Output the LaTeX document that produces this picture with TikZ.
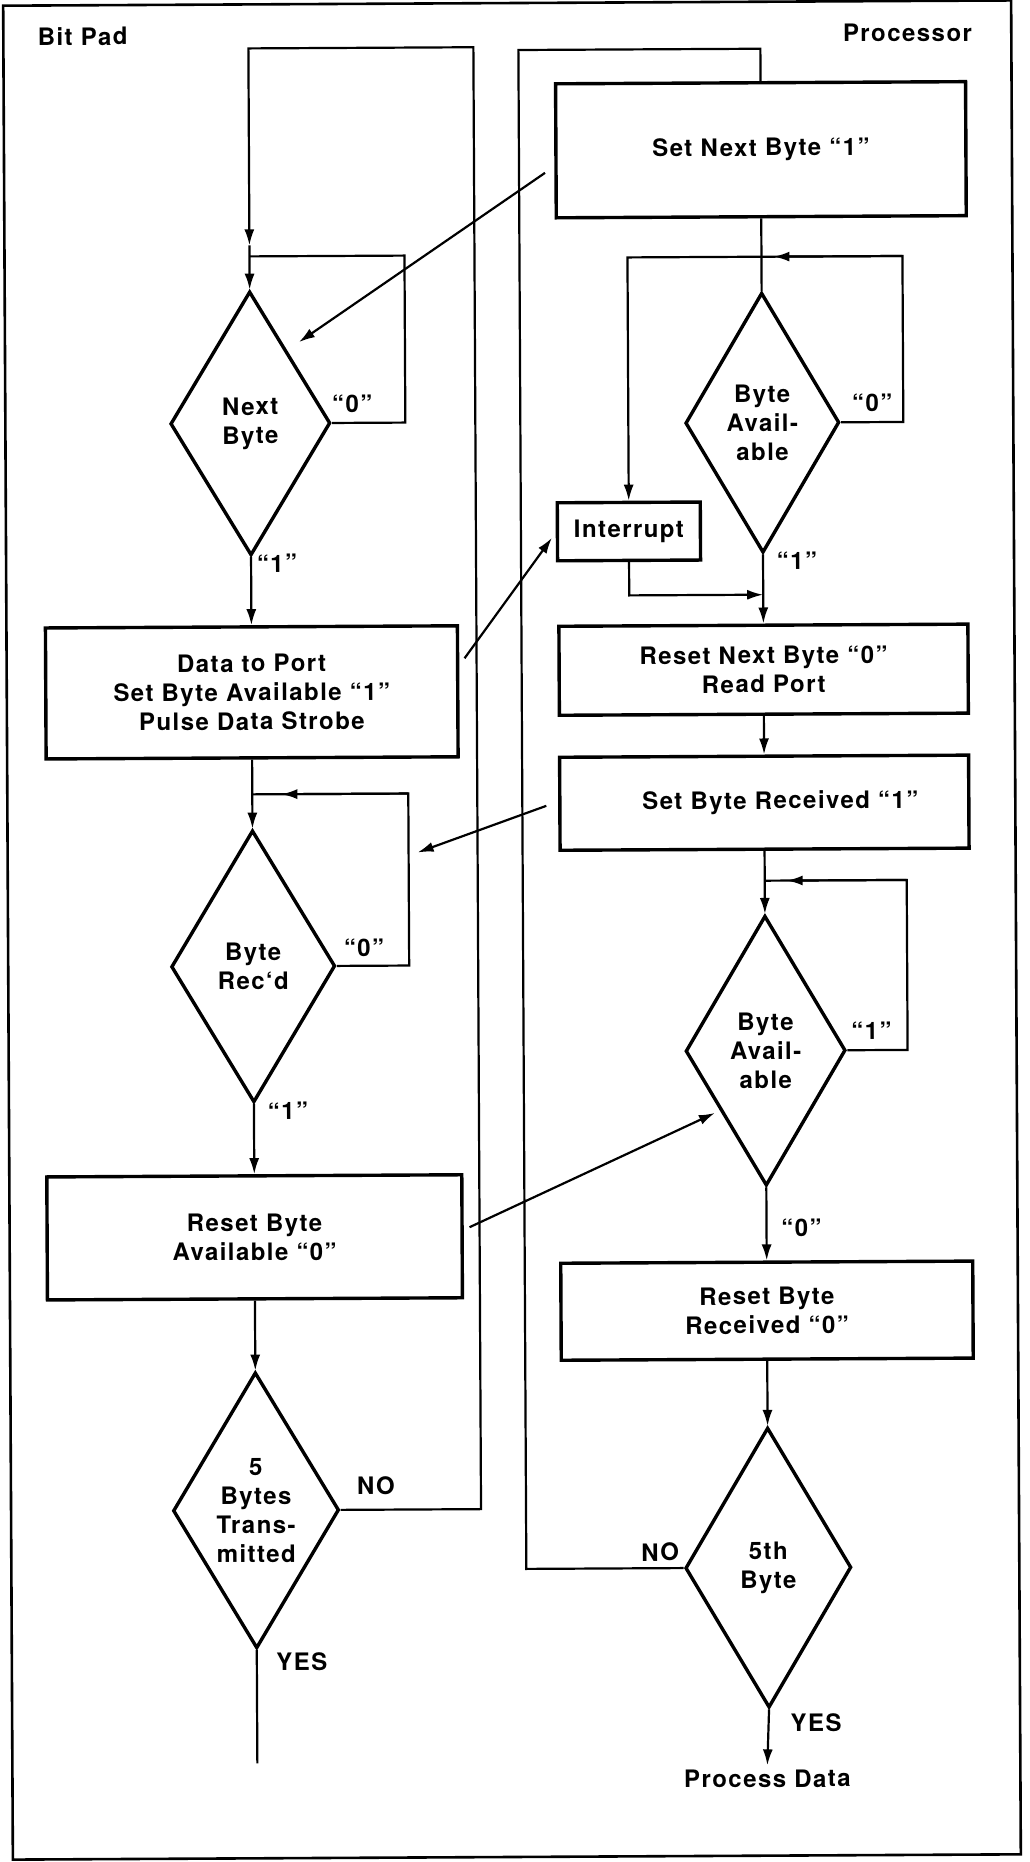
\documentclass[tikz,border=0pt]{standalone}
\usepackage{fontspec}
\setmainfont{TeX Gyre Heros}[LetterSpace=6]
\usetikzlibrary{shapes.geometric,arrows.meta}
\newcommand\dfont{\bfseries\fontsize{12}{14.5}\selectfont}
\newcommand\hfont{\bfseries\fontsize{12}{14}\selectfont}
\begin{document}
\begin{tikzpicture}[x=0.5pt,y=-0.5pt,
  conn/.style={line width=1.1pt},
  arr/.style={conn,-{Latex[length=8pt,width=5pt]}},
  box/.style={draw,line width=1.7pt,rectangle,inner sep=0pt,align=center,font=\dfont},
  dia/.style={draw,line width=1.7pt,diamond,aspect=0.6,inner sep=0pt,align=center,font=\dfont},
  lab/.style={inner sep=0pt,font=\dfont},
  head/.style={inner sep=0pt,font=\hfont}]
\useasboundingbox (0,0) rectangle (1029,1862);
\begin{scope}[rotate around={0.3:(514,931)},transform shape]
% frame
\draw[line width=1.3pt] (8,3) rectangle (1016,1857);
\node[head,anchor=west] (tbp) at (42,34) {Bit Pad};
\node[head,anchor=east] (tpr) at (977,35) {Processor};

% ---------- Bit Pad column ----------
\node[dia,minimum width=80pt,minimum height=132pt] (nb) at (253,422) {Next\\Byte};
\node[box,minimum width=206pt,minimum height=65.5pt] (dtp) at (253,691)
  {Data to Port\\Set Byte Available “1”\\Pulse Data Strobe};
\node[dia,minimum width=82pt,minimum height=136pt] (br) at (253,965) {Byte\\Rec‘d};
\node[box,minimum width=207.5pt,minimum height=61.5pt] (rba) at (253,1236)
  {Reset Byte\\Available “0”};
\node[dia,minimum width=83pt,minimum height=138pt] (bt) at (253,1509) {5\\Bytes\\Trans-\\mitted};

\node[lab] (nb0) at (355,403) {“0”};
\node[lab] (nb1) at (279,562) {“1”};
\node[lab] (br0) at (364,947) {“0”};
\node[lab] (br1) at (287,1110) {“1”};
\node[lab] (btno) at (373,1485) {NO};
\node[lab] (btyes) at (298,1661) {YES};

% ---------- Processor column ----------
\node[box,minimum width=205pt,minimum height=67pt] (snb) at (765,151) {Set Next Byte “1”};
\node[dia,minimum width=77pt,minimum height=130pt] (ba1) at (765,424) {Byte\\Avail-\\able};
\node[box,minimum width=71.5pt,minimum height=29pt] (intr) at (631,532) {Interrupt};
\node[box,minimum width=204.5pt,minimum height=44.5pt] (rnb) at (765,671)
  {Reset Next Byte “0”\\Read Port};
\node[box,minimum width=204.5pt,minimum height=46.5pt] (sbr) at (765,804)
  {\hspace*{16pt}Set Byte Received “1”};
\node[dia,minimum width=80pt,minimum height=135pt] (ba2) at (765,1052) {Byte\\Avail-\\able};
\node[box,minimum width=206pt,minimum height=48.5pt] (rbr) at (765,1312)
  {Reset Byte\\Received “0”};
\node[dia,minimum width=83pt,minimum height=140pt] (fb) at (765,1569) {5th\\Byte};
\node[inner sep=2pt,font=\dfont] (pd) at (763,1780) {Process Data};

\node[lab] (ba10) at (875,405) {“0”};
\node[lab] (ba11) at (799,562) {“1”};
\node[lab] (ba21) at (871,1033) {“1”};
\node[lab] (ba20) at (800,1229) {“0”};
\node[lab] (fbno) at (657,1553) {NO};
\node[lab] (fbyes) at (812,1724) {YES};

% ---------- coordinates ----------
\coordinate (bl1) at (478,1509);
\coordinate (bl2) at (253,47);
\coordinate (bl3) at (253,244);
\coordinate (j1) at (253,255);
\coordinate (sl1) at (408,422);
\coordinate (j2) at (253,793);
\coordinate (sl2) at (409,965);
\coordinate (m2a) at (409,793);
\coordinate (m2b) at (282,793);
\coordinate (be) at (253,1762);
\coordinate (s1) at (549,173);
\coordinate (e1) at (302,341);
\coordinate (s2) at (466,658);
\coordinate (e2) at (554,538);
\coordinate (s3) at (547,806);
\coordinate (e3) at (418,852);
\coordinate (s4) at (468,1227);
\coordinate (e4) at (714,1114);
\coordinate (pl1) at (523,1569);
\coordinate (pl2) at (765,50);
\coordinate (sl3) at (906,424);
\coordinate (ic) at (631,258);
\coordinate (m1a) at (906,258);
\coordinate (m1b) at (777,258);
\coordinate (j4) at (765,596);
\coordinate (j5) at (765,882);
\coordinate (sl4) at (907,1052);
\coordinate (m3a) at (907,882);
\coordinate (m3b) at (787,882);

% ---------- Bit Pad connectors ----------
\draw[arr] (bt.east) -- (bl1) |- (bl2) -- (bl3);
\draw[arr] (bl3) -- (nb.north);
\draw[conn] (nb.east) -- (sl1) |- (j1);
\draw[arr] (nb.south) -- (dtp.north);
\draw[arr] (dtp.south) -- (br.north);
\draw[conn] (br.east) -- (sl2) |- (j2);
\draw[arr] (m2a) -- (m2b);
\draw[arr] (br.south) -- (rba.north);
\draw[arr] (rba.south) -- (bt.north);
\draw[conn] (bt.south) -- (be);

% ---------- Processor connectors ----------
\draw[conn] (fb.west) -- (pl1) |- (pl2) -- (snb.north);
\draw[conn] (snb.south) -- (ba1.north);
\draw[arr] (ba1.east) -- (sl3) |- (ic) -- (intr.north);
\draw[arr] (m1a) -- (m1b);
\draw[arr] (intr.south) |- (j4);
\draw[arr] (ba1.south) -- (rnb.north);
\draw[arr] (rnb.south) -- (sbr.north);
\draw[arr] (sbr.south) -- (ba2.north);
\draw[conn] (ba2.east) -- (sl4) |- (j5);
\draw[arr] (m3a) -- (m3b);
\draw[arr] (ba2.south) -- (rbr.north);
\draw[arr] (rbr.south) -- (fb.north);
\draw[arr] (fb.south) -- (pd.north);

% ---------- cross connectors ----------
\draw[arr] (s1) -- (e1);
\draw[arr] (s2) -- (e2);
\draw[arr] (s3) -- (e3);
\draw[arr] (s4) -- (e4);
\end{scope}
\end{tikzpicture}
\end{document}
